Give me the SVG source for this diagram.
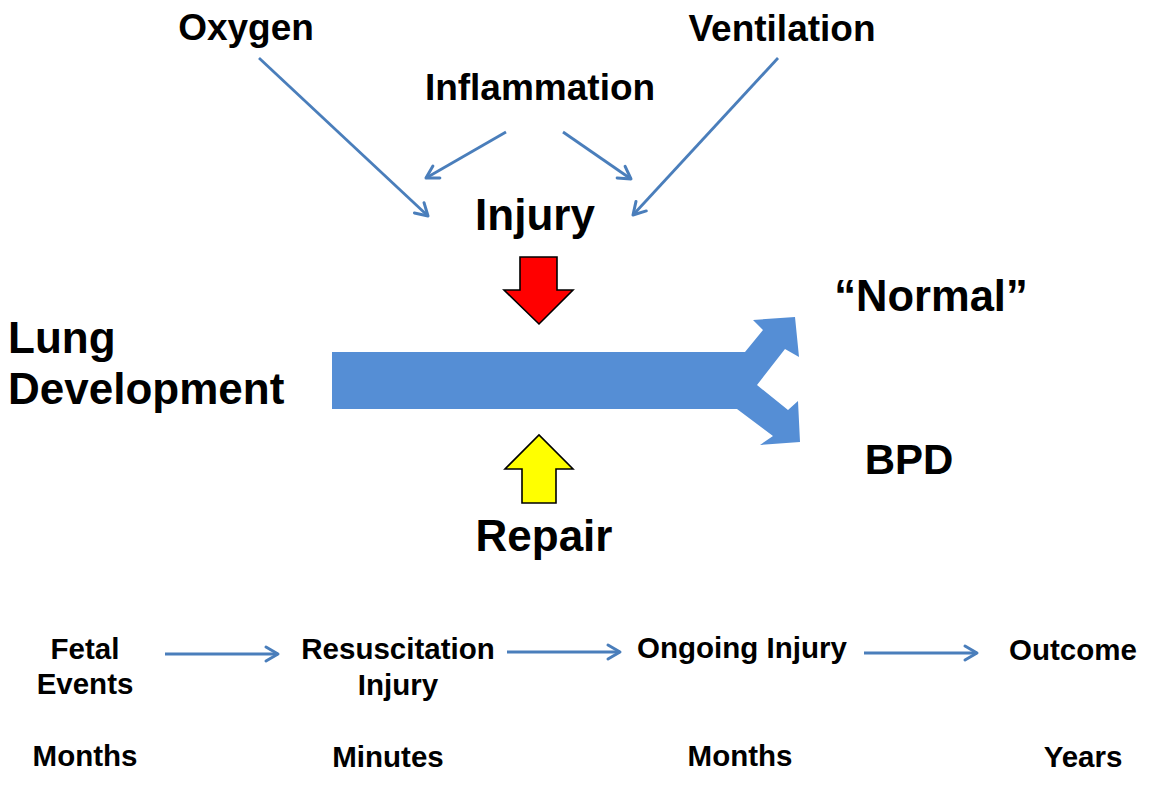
<svg xmlns="http://www.w3.org/2000/svg" width="1158" height="786" viewBox="0 0 1158 786">
<defs>
<style>
text{font-family:"Liberation Sans",Arial,sans-serif;font-weight:bold;fill:#000}
.t36{font-size:37px}
.t42{font-size:42px}
.t43{font-size:43.5px}
.t44{font-size:44px}
.t29{font-size:29.5px}
.c{text-anchor:middle}
.conn{stroke:#4A7EBB;stroke-width:2.8;fill:none;marker-end:url(#ah)}
.blk{stroke:#000;stroke-width:1.6;stroke-linejoin:miter}
</style>
<marker id="ah" markerUnits="userSpaceOnUse" markerWidth="20" markerHeight="20" viewBox="0 0 20 20" refX="17" refY="10" orient="auto">
<path d="M5,3 L17,10 L5,17" fill="none" stroke="#4A7EBB" stroke-width="3" stroke-linecap="round" stroke-linejoin="round"/>
</marker>
</defs>
<rect width="1158" height="786" fill="#fff"/>
<g id="connectors">
<line class="conn" x1="259" y1="58" x2="428" y2="216"/>
<line class="conn" x1="778" y1="58" x2="633" y2="215"/>
<line class="conn" x1="506" y1="132" x2="426" y2="178"/>
<line class="conn" x1="563" y1="132" x2="631" y2="179"/>
<line class="conn" x1="165" y1="654" x2="278" y2="654"/>
<line class="conn" x1="507" y1="652" x2="620" y2="652"/>
<line class="conn" x1="864" y1="653" x2="977" y2="653"/>
</g>
<g id="lung-bar">
<polygon fill="#558ED5" points="332,352 745,352 763,330 753,320 795,317 799,357 785,349 757,385 788,410 798,401 800,442 760,445 773,436 737,409 332,409"/>
</g>
<g id="injury-arrow">
<polygon class="blk" fill="#FF0000" points="520,257 557,257 557,290 573,290 539,324 504,290 520,290"/>
</g>
<g id="repair-arrow">
<polygon class="blk" fill="#FFFF00" points="522,503 556,503 556,469 573,469 539,435 505,469 522,469"/>
</g>
<g id="oxygen"><text class="t36 c" x="246" y="40">Oxygen</text></g>
<g id="ventilation"><text class="t36 c" x="782" y="41">Ventilation</text></g>
<g id="inflammation"><text class="t36 c" x="540" y="100">Inflammation</text></g>
<g id="injury"><text class="t44 c" x="535" y="230">Injury</text></g>
<g id="lung-development"><text class="t44" x="8" y="353">Lung</text><text class="t44" x="8" y="404">Development</text></g>
<g id="normal"><text class="t43 c" x="931" y="311">“Normal”</text></g>
<g id="bpd"><text class="t42 c" x="909" y="474">BPD</text></g>
<g id="repair"><text class="t44 c" x="544" y="551">Repair</text></g>
<g id="fetal-events"><text class="t29 c" x="85" y="659">Fetal</text><text class="t29 c" x="85" y="694">Events</text></g>
<g id="resuscitation-injury"><text class="t29 c" x="398" y="659">Resuscitation</text><text class="t29 c" x="398" y="695">Injury</text></g>
<g id="ongoing-injury"><text class="t29 c" x="742" y="658">Ongoing Injury</text></g>
<g id="outcome"><text class="t29 c" x="1073" y="660">Outcome</text></g>
<g id="t-months1"><text class="t29 c" x="85" y="766">Months</text></g>
<g id="t-minutes"><text class="t29 c" x="388" y="767">Minutes</text></g>
<g id="t-months2"><text class="t29 c" x="740" y="766">Months</text></g>
<g id="t-years"><text class="t29 c" x="1083" y="767">Years</text></g>
</svg>
